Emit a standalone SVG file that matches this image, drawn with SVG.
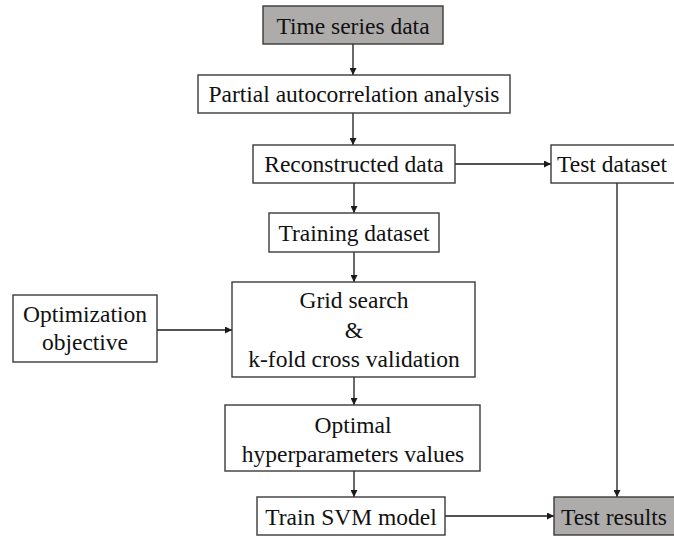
<svg xmlns="http://www.w3.org/2000/svg" width="674" height="537" viewBox="0 0 674 537">
<style>
.box{fill:#ffffff;stroke:#3a3a3a;stroke-width:1.4}
.gray{fill:#aeabab}
text{font-family:"Liberation Serif","Times New Roman",serif;font-size:23.5px;fill:#111;text-anchor:middle}
.c{stroke:#1a1a1a;stroke-width:1.3;fill:none;marker-end:url(#ah)}
</style>
<defs>
<marker id="ah" viewBox="0 0 10 10" refX="10" refY="5" markerWidth="7" markerHeight="7" markerUnits="userSpaceOnUse" orient="auto">
<path d="M0,0 L10,5 L0,10 z" fill="#1a1a1a"/>
</marker>
</defs>
<rect width="674" height="537" fill="#ffffff"/>
<g id="connectors">
<line class="c" x1="353" y1="44" x2="353" y2="75"/>
<line class="c" x1="353" y1="113" x2="353" y2="145"/>
<line class="c" x1="354" y1="183" x2="354" y2="213"/>
<line class="c" x1="354" y1="252" x2="354" y2="282"/>
<line class="c" x1="354" y1="377" x2="354" y2="405"/>
<line class="c" x1="354" y1="471" x2="354" y2="497"/>
<line class="c" x1="455" y1="164" x2="551" y2="164"/>
<line class="c" x1="617" y1="183" x2="617" y2="497"/>
<line class="c" x1="445" y1="516" x2="554" y2="516"/>
<line class="c" x1="157" y1="330" x2="232" y2="330"/>
</g>
<g id="time-series">
<rect class="box gray" x="263" y="6" width="180" height="38"/>
<text x="353" y="34">Time series data</text>
</g>
<g id="pacf">
<rect class="box" x="198" y="75" width="312" height="38"/>
<text x="354" y="102">Partial autocorrelation analysis</text>
</g>
<g id="reconstructed">
<rect class="box" x="253" y="145" width="202" height="38"/>
<text x="354" y="172">Reconstructed data</text>
</g>
<g id="test-dataset">
<rect class="box" x="551" y="145" width="130" height="38"/>
<text x="612" y="172">Test dataset</text>
</g>
<g id="training">
<rect class="box" x="269" y="213" width="170" height="39"/>
<text x="354" y="241">Training dataset</text>
</g>
<g id="grid-search">
<rect class="box" x="232" y="282" width="243" height="95"/>
<text x="354" y="308">Grid search</text>
<text x="354" y="338">&amp;</text>
<text x="354" y="367">k-fold cross validation</text>
</g>
<g id="objective">
<rect class="box" x="13" y="295" width="144" height="67"/>
<text x="85" y="322">Optimization</text>
<text x="85" y="350">objective</text>
</g>
<g id="optimal">
<rect class="box" x="225" y="405" width="255" height="66"/>
<text x="353" y="433">Optimal</text>
<text x="353" y="462">hyperparameters values</text>
</g>
<g id="train-svm">
<rect class="box" x="257" y="497" width="188" height="38"/>
<text x="351" y="525">Train SVM model</text>
</g>
<g id="test-results">
<rect class="box gray" x="554" y="497" width="130" height="38"/>
<text x="614" y="525">Test results</text>
</g>
</svg>
